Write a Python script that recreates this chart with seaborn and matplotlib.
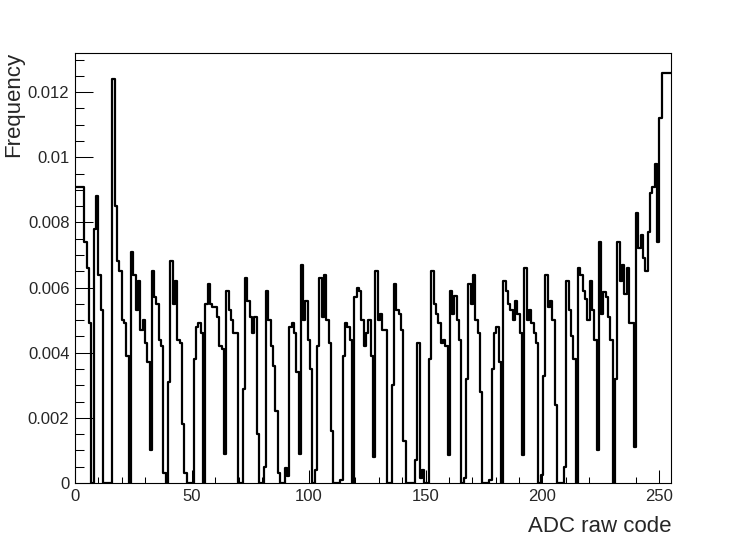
import numpy as np
import pandas as pd
import matplotlib
matplotlib.use("Agg")
import matplotlib.pyplot as plt
import seaborn as sns
from matplotlib.ticker import MultipleLocator, FixedLocator

# ADC codes (one bin per code)
adc_codes = list(range(256))

# Frequency per code, in units of 1e-3
freq_per_mille = [
    9.1, 9.1, 9.1, 9.1, 7.4, 6.6, 4.9, 0.0,                      # 0-7
    7.8, 8.8, 6.4, 5.3,                                          # 8-11
    0.0, 0.0, 0.0, 0.0,                                          # 12-15
    12.4, 8.5, 6.8, 6.5, 5.0, 4.9, 3.9, 0.0,                     # 16-23
    7.1, 6.4, 5.3, 6.2, 4.7, 5.0, 4.3, 3.7, 1.0,                 # 24-32
    6.5, 5.7, 5.5, 4.4, 4.2, 0.3, 0.0,                           # 33-39
    3.1, 6.8, 5.5, 6.2, 4.4, 4.3, 1.8, 0.3, 0.0, 0.0, 0.0,       # 40-50
    3.8, 4.8, 4.9, 4.6, 0.0,                                     # 51-55
    5.5, 6.1, 5.5, 5.4, 5.4, 5.1, 4.2, 4.1, 0.9,                 # 56-64
    5.9, 5.3, 5.0, 4.6, 4.6, 0.0, 0.0,                           # 65-71
    2.9, 6.3, 5.6, 5.1, 4.6, 5.1, 1.5, 0.0, 0.0, 0.5,            # 72-81
    5.9, 5.0, 4.2, 3.6, 2.2, 0.3, 0.0, 0.0, 0.45, 0.2,           # 82-91
    4.8, 4.9, 4.6, 3.4, 0.9,                                     # 92-96
    6.7, 5.0, 5.6, 4.4, 3.5, 0.0, 0.4,                           # 97-103
    4.2, 6.3, 5.1, 6.4, 5.0, 4.3, 1.6, 0.0, 0.0, 0.0, 0.1,       # 104-114
    3.9, 4.9, 4.8, 4.4, 0.0,                                     # 115-119
    5.7, 6.0, 5.9, 5.0, 4.2, 4.6, 5.0, 3.9, 0.8,                 # 120-128
    6.5, 5.0, 5.2, 4.7, 4.7, 0.0, 0.0,                           # 129-135
    3.0, 6.1, 5.3, 5.2, 4.7, 1.3, 0.0, 0.0, 0.0, 0.0, 0.7,       # 136-146
    4.3, 0.15, 0.4, 0.0, 0.0,                                    # 147-151
    3.8, 6.5, 5.5, 5.2, 4.9, 4.3, 4.4, 4.2, 0.85,                # 152-160
    5.9, 5.2, 5.75, 5.0, 4.4, 0.0, 0.15,                         # 161-167
    3.2, 6.1, 5.5, 6.4, 5.0, 4.6, 2.8, 0.0, 0.0, 0.0, 0.1,       # 168-178
    3.5, 4.6, 4.8, 3.7, 0.0,                                     # 179-183
    6.2, 5.9, 5.5, 5.3, 5.0, 5.6, 5.2, 4.6, 0.86,                # 184-192
    6.6, 5.0, 5.3, 4.9, 4.6, 4.3, 0.0, 0.25,                     # 193-200
    3.3, 6.4, 5.4, 5.6, 5.0, 2.4, 0.0, 0.0, 0.0, 0.5,            # 201-210
    6.2, 5.3, 4.5, 3.8, 0.0,                                     # 211-215
    6.6, 6.4, 5.9, 5.65, 5.0, 6.2, 5.3, 4.4, 1.0,                # 216-224
    7.4, 5.2, 5.85, 5.7, 5.1, 4.4, 0.0,                          # 225-231
    3.2, 7.4, 6.2, 6.7, 5.8, 6.6, 4.9, 4.9, 1.1,                 # 232-240
    8.3, 7.2, 7.6, 6.9, 6.5, 7.7, 8.9, 9.1, 9.8, 7.4, 11.2,      # 241-251
    12.6, 12.6, 12.6, 12.6,                                      # 252-255
]
assert len(freq_per_mille) == len(adc_codes)

x_ticks = [0, 50, 100, 150, 200, 250]
y_ticks = [0, 0.002, 0.004, 0.006, 0.008, 0.01, 0.012]
y_tick_labels = ["0", "0.002", "0.004", "0.006", "0.008", "0.01", "0.012"]

df = pd.DataFrame({"code": adc_codes,
                   "freq": np.array(freq_per_mille) * 1e-3})

sns.set_style("white")
plt.rcParams["font.family"] = ["Liberation Sans", "DejaVu Sans"]

W, H = 747, 537
fig = plt.figure(figsize=(W / 100, H / 100), dpi=100)
ax = fig.add_axes([75 / W, 1 - 483 / H, (671 - 75) / W, (483 - 53) / H])

sns.histplot(data=df, x="code", weights="freq", bins=256, binrange=(0, 255),
             element="step", fill=False, color="black", linewidth=1.6, ax=ax)

ax.set_xlim(0, 255)
ax.set_ylim(0, 0.0132)
ax.set_xlabel("")
ax.set_ylabel("")

ax.xaxis.set_major_locator(FixedLocator(x_ticks))
ax.xaxis.set_minor_locator(MultipleLocator(10))
ax.set_xticklabels([str(t) for t in x_ticks])
ax.yaxis.set_major_locator(FixedLocator(y_ticks))
ax.yaxis.set_minor_locator(MultipleLocator(0.0005))
ax.set_yticklabels(y_tick_labels)

ax.tick_params(axis="x", which="major", direction="in", length=9.3, width=0.75,
               labelsize=12, pad=4, bottom=True, top=False, color="black")
ax.tick_params(axis="x", which="minor", direction="in", length=4.6, width=0.75,
               bottom=True, top=False, color="black")
ax.tick_params(axis="y", which="major", direction="in", length=12.9, width=0.75,
               labelsize=12, pad=4, left=True, right=False, color="black")
ax.tick_params(axis="y", which="minor", direction="in", length=6.4, width=0.75,
               left=True, right=False, color="black")

for s in ax.spines.values():
    s.set_visible(True)
    s.set_color("black")
    s.set_linewidth(0.8)

fig.text(671 / W, 1 - 532 / H, "ADC raw code", ha="right", va="baseline",
         fontsize=16)
fig.text(14 / W, 1 - 52 / H, "Frequency", ha="center", va="top",
         rotation=90, fontsize=16)

fig.patch.set_facecolor("white")
ax.set_facecolor("white")
fig.savefig("out.png", dpi=100, facecolor="white")
